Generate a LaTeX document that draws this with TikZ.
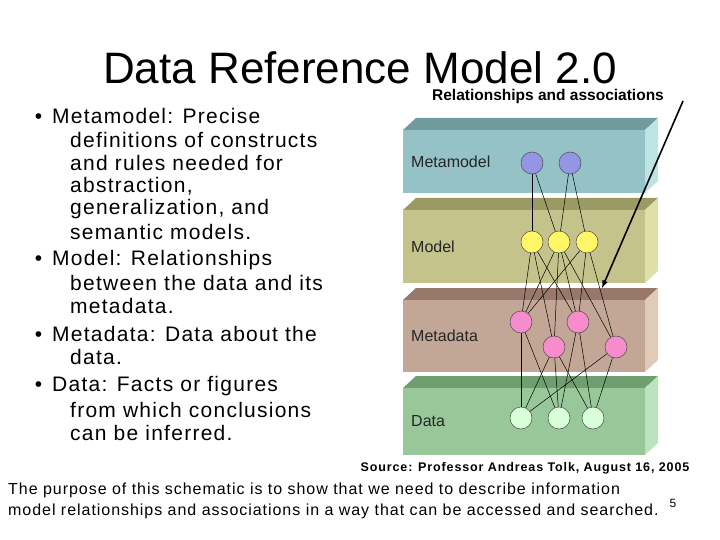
\documentclass[tikz,border=0pt]{standalone}
\usepackage{fontspec}
\setmainfont{Liberation Sans}
\begin{document}
\begin{tikzpicture}[x=1pt,y=-1pt,
 cir/.style={circle,draw=black!70,line width=0.5pt,minimum size=22pt,inner sep=0pt},
 ed/.style={black,line width=0.5pt},
 bl/.style={anchor=west,font=\fontsize{21}{21}\selectfont\addfontfeatures{LetterSpace=6},inner sep=0pt},
 lab/.style={anchor=west,font=\fontsize{16}{16}\selectfont,text=black!85,inner sep=0pt}]
\useasboundingbox[fill=white] (0,0) rectangle (720,540);
\newcommand{\slab}[6]{%
 \fill[#4] (403,#1) -- (416,#1-12) -- (658,#1-12) -- (645,#1) -- cycle;
 \fill[#5] (645,#1) -- (658,#1-12) -- (658,#2-12) -- (645,#2) -- cycle;
 \fill[#3] (403,#1) rectangle (645,#2);
 \node[lab] (#6) at (411,{(#1+#2)/2}) {#6};}
\definecolor{mmf}{HTML}{94C2C6}\definecolor{mmt}{HTML}{6F9B9B}\definecolor{mms}{HTML}{BDE3E3}
\definecolor{mof}{HTML}{C4C38B}\definecolor{mot}{HTML}{9B9A64}\definecolor{mos}{HTML}{DFDFA9}
\definecolor{mdf}{HTML}{C3A796}\definecolor{mdt}{HTML}{98786A}\definecolor{mds}{HTML}{E2CAB8}
\definecolor{daf}{HTML}{98C79A}\definecolor{dat}{HTML}{6F9F71}\definecolor{das}{HTML}{BCE3BC}
\slab{130}{193}{mmf}{mmt}{mms}{Metamodel}
\slab{210}{283}{mof}{mot}{mos}{Model}
\slab{300}{372}{mdf}{mdt}{mds}{Metadata}
\slab{388}{455}{daf}{dat}{das}{Data}
\foreach \n/\x/\y/\c in {a1/532/163/{blue!35!white!90!black},a2/570/163/{blue!35!white!90!black},
 b1/532/242/{yellow!60!white},b2/559/242/{yellow!60!white},b3/587/242/{yellow!60!white},
 c1/521/322/{magenta!45!white},c3/578/322/{magenta!45!white},c2/554/347/{magenta!45!white},c4/616/347/{magenta!45!white},
 d1/521/418/{green!15!white},d2/559/418/{green!15!white},d3/593/418/{green!15!white}}
 \node[cir,fill=\c] (\n) at (\x,\y) {};
\foreach \s/\t in {a1/b1,a1/b2,a2/b2,a2/b3,
 b1/c1,b1/c2,b1/c3,b2/c1,b2/c2,b2/c3,b2/c4,b3/c1,b3/c4,b3/c3,
 c1/d1,c1/d2,c2/d1,c2/d2,c2/d3,c3/d2,c3/d3,c4/d1,c4/d3}
 \draw[ed] (\s) -- (\t);
\node[font=\fontsize{44}{44}\selectfont] (title) at (360,68) {Data Reference Model 2.0};
\node[font=\bfseries\fontsize{15.5}{15.5}\selectfont] (rel) at (548,96) {Relationships and associations};
\coordinate (tip) at (602,288);
\draw[line width=1.6pt,-latex] (683,101) -- (tip);
\foreach \y/\x/\t in {116/52/{\llap{•\hspace{10pt}}Metamodel: Precise},140/70/definitions of constructs,163/70/and rules needed for,186/70/{abstraction,},209/70/{generalization, and},232/70/semantic models.,
 260/52/{\llap{•\hspace{10pt}}Model: Relationships},283/70/between the data and its,306/70/metadata.,
 334/52/{\llap{•\hspace{10pt}}Metadata: Data about the},357/70/data.,
 386/52/{\llap{•\hspace{10pt}}Data: Facts or figures},410/70/from which conclusions,433/70/can be inferred.}
 \node[bl] at (\x,\y) {\t};
\node[font=\bfseries\fontsize{12.5}{12.5}\selectfont\addfontfeatures{LetterSpace=7}] (src) at (525,468) {Source: Professor Andreas Tolk, August 16, 2005};
\node[anchor=west,font=\fontsize{16}{16}\selectfont\addfontfeatures{LetterSpace=6}] at (8,490) [inner sep=0pt] (p1) {The purpose of this schematic is to show that we need to describe information};
\node[anchor=west,font=\fontsize{16}{16}\selectfont\addfontfeatures{LetterSpace=6},inner sep=0pt] (p2) at (8,511) {model relationships and associations in a way that can be accessed and searched.};
\node[font=\fontsize{12}{12}\selectfont] (pg) at (673,503) {5};
\end{tikzpicture}
\end{document}
